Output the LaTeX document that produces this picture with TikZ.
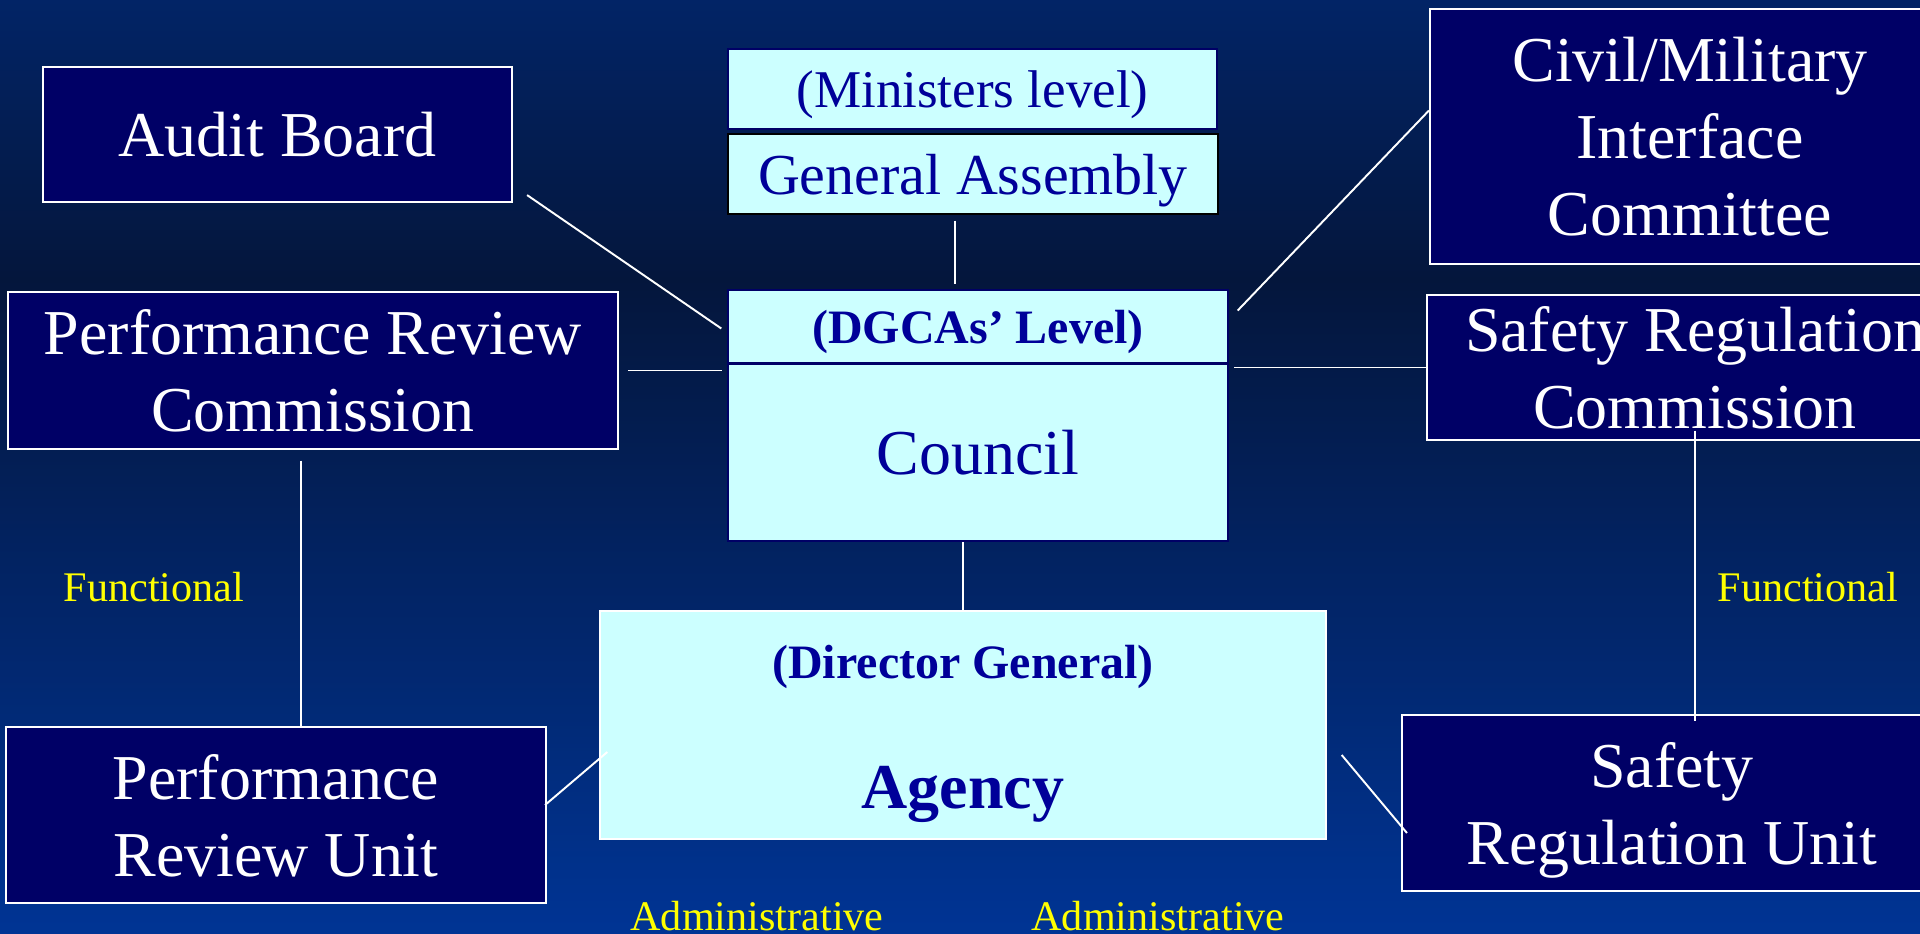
\documentclass[tikz,border=0pt]{standalone}
\usepackage{fontspec}
\setmainfont{Liberation Serif}
\usetikzlibrary{calc}

\definecolor{bgtop}{RGB}{2,36,102}
\definecolor{bgmid}{RGB}{4,22,60}
\definecolor{bgbot}{RGB}{0,52,148}
\definecolor{navybox}{RGB}{0,0,102}
\definecolor{palecyan}{RGB}{204,255,255}
\definecolor{inkblue}{RGB}{0,0,153}
\definecolor{labelyellow}{RGB}{255,255,0}

\newcommand{\bigtxt}{\fontsize{36.4}{43.8}\selectfont}
\newcommand{\midtxt}{\bfseries\fontsize{27.3}{33}\selectfont}

\tikzset{
	boxsize/.style 2 args={minimum width=#1*0.02cm, minimum height=#2*0.02cm, inner sep=0pt, align=center, text depth=0pt},
	darkbox/.style={draw=white, line width=1.2pt, fill=navybox, text=white, font=\bigtxt},
	lightbox/.style={draw=navybox, line width=0.8pt, fill=palecyan, text=inkblue},
	link/.style={draw=white, line width=1.1pt},
	tag/.style={text=labelyellow, font=\fontsize{24}{28}\selectfont, inner sep=0pt}
}

\begin{document}
\begin{tikzpicture}[x=0.02cm, y=-0.02cm]
			%%%%% BACKGROUND %%%%%
			\useasboundingbox (0,0) rectangle (1920,933);
			\clip (0,0) rectangle (1920,933);
			\shade[top color=bgtop, bottom color=bgmid] (0,0) rectangle (1920,280);
			\shade[top color=bgmid, bottom color=bgbot] (0,279) rectangle (1920,933);
			
			%%%%% CENTRE %%%%%
			\node[lightbox, boxsize={489}{80}, font=\fontsize{30.2}{36}\selectfont] (ministers) at (972.5,89) {(Ministers level)};
			\node[lightbox, draw=black, line width=1.5pt, boxsize={490}{80}, font=\fontsize{33}{40}\selectfont] (assembly) at (973,174) {General Assembly};
			\node[lightbox, boxsize={500}{73}, font=\midtxt] (dgca) at (978,326.5) {(DGCAs' Level)};
			\node[lightbox, boxsize={500}{177}, font=\bigtxt] (council) at (978,452.5) {Council};
			
			\node[lightbox, draw=white, boxsize={726}{228}] (agency) at (963,725) {};
			\node[anchor=base, text=inkblue, font=\midtxt] (director) at (963,678) {(Director General)};
			\node[anchor=base, text=inkblue, font=\bfseries\bigtxt] (agencyname) at (963,808) {Agency};
			
			%%%%% SIDES %%%%%
			\node[darkbox, boxsize={469}{135}] (audit) at (277.5,134.5) {Audit Board};
			\node[darkbox, boxsize={610}{157}] (prc) at (313,370.5) {Performance Review\\Commission};
			\node[darkbox, boxsize={540}{176}] (pru) at (276,815) {Performance\\Review Unit};
			\node[darkbox, boxsize={520}{255}] (civil) at (1690,136.5) {Civil/Military\\Interface\\Committee};
			\node[darkbox, boxsize={536}{145}] (src) at (1695,367.5) {Safety Regulation\\Commission};
			\node[darkbox, boxsize={540}{176}] (sru) at (1672,803) {Safety\\Regulation Unit};
			
			%%%%% LINKS %%%%%
			\coordinate (gafoot) at ($(assembly.south west)!.463!(assembly.south east)$);
			\draw[link, shorten <=3pt, shorten >=3pt] (gafoot) -- (gafoot |- dgca.north);
			\draw[link] (agency.north) -- (agency.north |- council.south);
			\draw[link] ([shift={(14,-8)}]audit.south east) -- ([shift={(-6,2)}]dgca.west);
			\draw[link, shorten <=5pt, shorten >=3pt] (prc.east) -- (prc.east -| council.west);
			\draw[link] ([shift={(0,-26)}]civil.west) -- ([shift={(9,-16)}]dgca.east);
			\draw[link, shorten >=3pt] (src.west) -- (src.west -| council.east);
			\coordinate (prcfoot) at ($(prc.south west)!.48!(prc.south east)$);
			\draw[link, shorten <=6pt] (prcfoot) -- (prcfoot |- pru.north);
			\draw[link, shorten <=-6pt, shorten >=-4pt] (src.south) -- (src.south |- sru.north);
			\draw[link] ([shift={(-2,-10)}]pru.east) -- ([shift={(8,27)}]agency.west);
			\draw[link] ([shift={(15,30)}]agency.east) -- ([shift={(6,30)}]sru.west);
			
			%%%%% LABELS %%%%%
			\node[tag] (funcleft) at (154,587) {Functional};
			\node[tag] (funcright) at (1808,587) {Functional};
			\node[tag, anchor=base] (adminleft) at (757,930) {Administrative};
			\node[tag, anchor=base] (adminright) at (1158,930) {Administrative};
			
			%%%%% END %%%%%
\end{tikzpicture}
\end{document}
